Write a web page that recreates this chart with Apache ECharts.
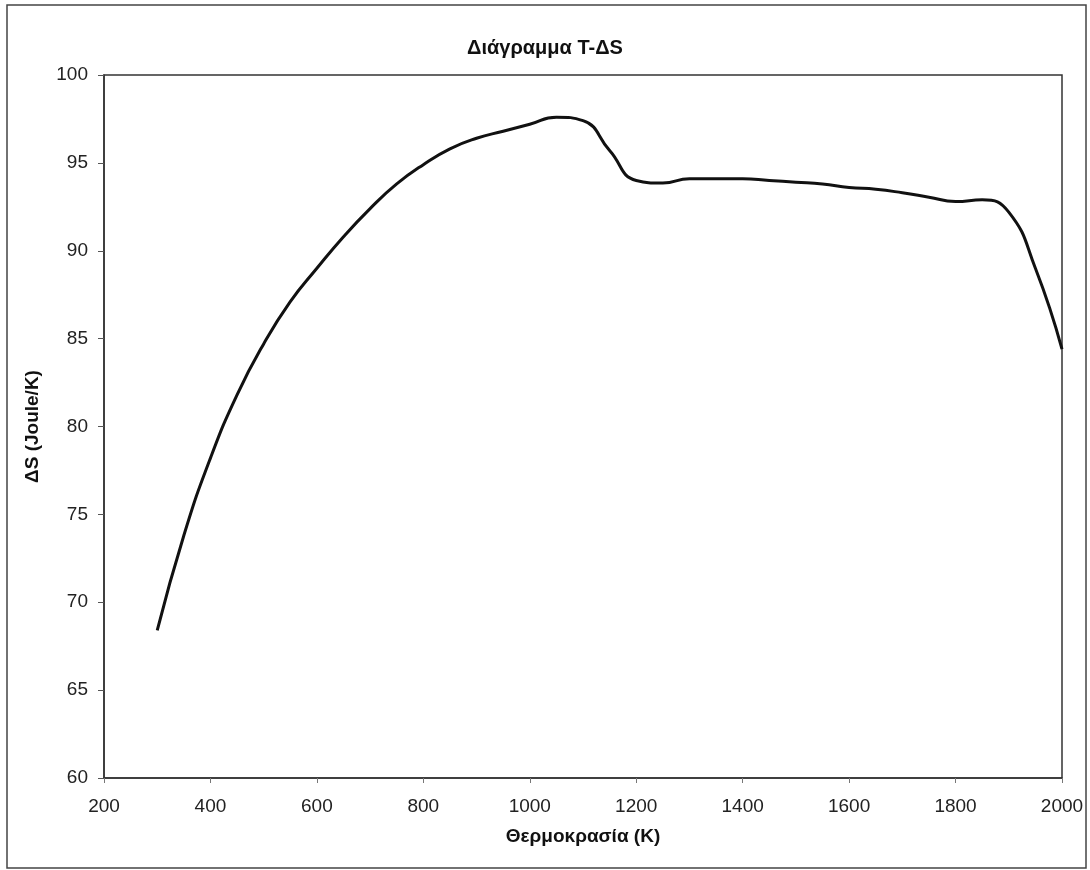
<!DOCTYPE html>
<html>
<head>
<meta charset="utf-8">
<script src="https://cdn.jsdelivr.net/npm/echarts@6/dist/echarts.min.js"></script>
<style>
  html, body { margin: 0; padding: 0; background: #fff; }
  #chart { width: 1090px; height: 870px; }
</style>
</head>
<body>
<div id="chart"></div>
<script>
// θερμοκρασία (K) και ΔS (Joule/K), διαβασμένα από το διάγραμμα
var temps = [300, 350, 400, 450, 500, 550, 600, 650, 700, 750, 800, 850, 900, 950, 1000, 1050, 1100, 1150,
  1200, 1250, 1300, 1350, 1400, 1450, 1500, 1550, 1600, 1650, 1700, 1750, 1800, 1850, 1900, 1950, 2000];
var deltaS = [68.4, 73.8, 78.2, 81.8, 84.7, 87.1, 89.0, 90.8, 92.4, 93.8, 94.9, 95.8, 96.4, 96.8, 97.2, 97.6, 97.4, 95.7,
  94.0, 93.85, 94.1, 94.1, 94.1, 94.0, 93.9, 93.8, 93.6, 93.5, 93.3, 93.05, 92.8, 92.9, 92.2, 89.0, 84.4];
var xTicks = [200, 400, 600, 800, 1000, 1200, 1400, 1600, 1800, 2000];
var yTicks = [60, 65, 70, 75, 80, 85, 90, 95, 100];

var font = 'Liberation Sans, Arial, sans-serif';
var chart = echarts.init(document.getElementById('chart'));

var points = temps.map(function (t, i) { return [t, deltaS[i]]; });

var option = {
  backgroundColor: '#ffffff',
  animation: false,
  title: {
    text: 'Διάγραμμα T-ΔS',
    left: 'center',
    top: 33,
    textStyle: { fontFamily: font, fontSize: 20, fontWeight: 'bold', color: '#111' }
  },
  graphic: [{
    type: 'rect',
    shape: { x: 7, y: 5, width: 1079, height: 863 },
    style: { fill: 'none', stroke: '#444', lineWidth: 1.5 },
    silent: true
  }],
  grid: {
    left: 104,
    right: 28,
    top: 75,
    bottom: 92,
    show: true,
    borderColor: '#333',
    borderWidth: 1.5
  },
  xAxis: {
    type: 'value',
    min: xTicks[0],
    max: xTicks[xTicks.length - 1],
    interval: 200,
    name: 'Θερμοκρασία (K)',
    nameLocation: 'middle',
    nameGap: 49,
    nameTextStyle: { fontFamily: font, fontSize: 19, fontWeight: 'bold', color: '#111' },
    axisLine: { show: true, lineStyle: { color: '#333', width: 1.5 } },
    axisTick: { show: true, length: 5, lineStyle: { color: '#777' } },
    axisLabel: { fontFamily: font, fontSize: 19, color: '#222', margin: 19, formatter: function (v) { return String(v); } },
    splitLine: { show: false }
  },
  yAxis: {
    type: 'value',
    min: yTicks[0],
    max: yTicks[yTicks.length - 1],
    interval: 5,
    name: 'ΔS (Joule/K)',
    nameLocation: 'middle',
    nameGap: 62,
    nameTextStyle: { fontFamily: font, fontSize: 19, fontWeight: 'bold', color: '#111' },
    axisLine: { show: true, lineStyle: { color: '#333', width: 1.5 } },
    axisTick: { show: true, length: 6, lineStyle: { color: '#555' } },
    axisLabel: { fontFamily: font, fontSize: 19, color: '#222', margin: 16, formatter: function (v) { return String(v); } },
    splitLine: { show: false }
  },
  series: [{
    type: 'line',
    data: points,
    smooth: 0.5,
    symbol: 'none',
    lineStyle: { color: '#111', width: 3 }
  }]
};

chart.setOption(option);
</script>
</body>
</html>
